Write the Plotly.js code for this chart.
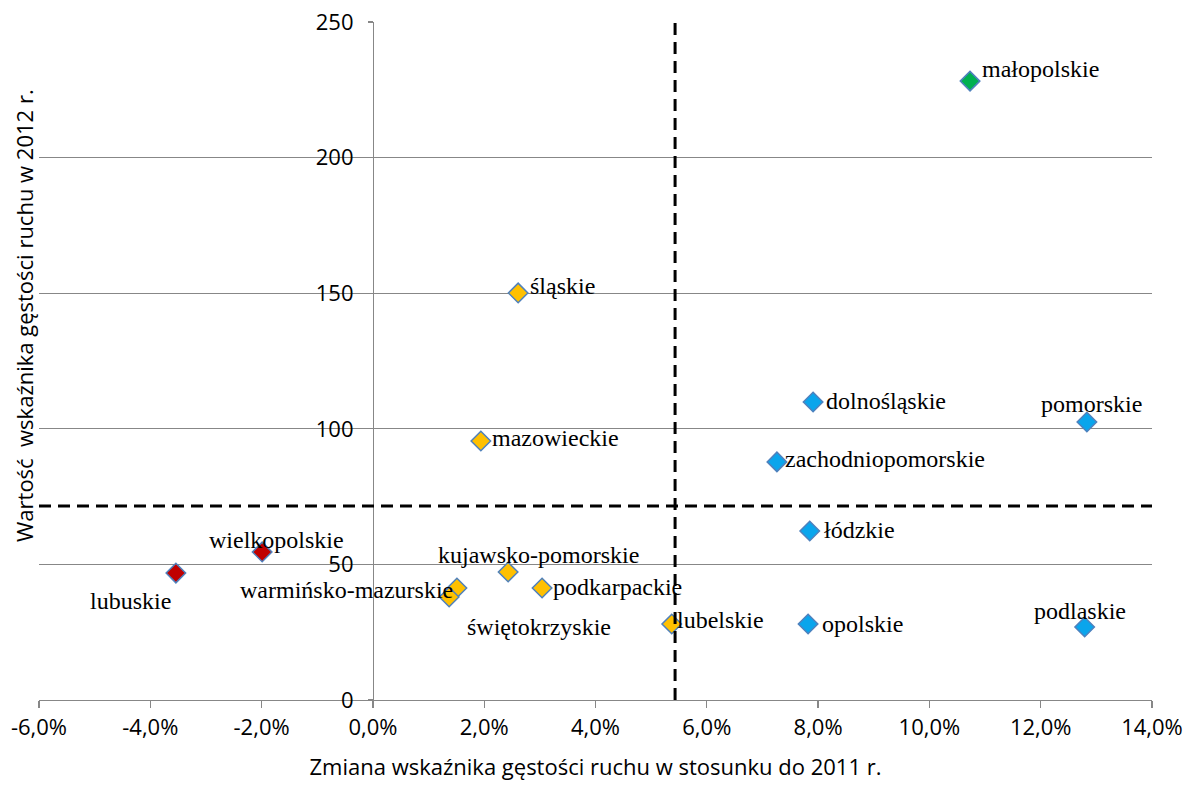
<!DOCTYPE html>
<html>
<head>
<meta charset="utf-8">
<script src="https://cdn.plot.ly/plotly-3.0.1.min.js"></script>
<style>html,body{margin:0;padding:0;background:#fff;}#chart{width:1190px;height:793px;}</style>
</head>
<body>
<div id="chart"></div>
<script>
// ---- data ----
const regions = ["małopolskie","śląskie","dolnośląskie","pomorskie","mazowieckie","zachodniopomorskie","łódzkie","wielkopolskie","lubuskie","kujawsko-pomorskie","warmińsko-mazurskie","podkarpackie","świętokrzyskie","lubelskie","opolskie","podlaskie"];
const changeVals = [0.1073,0.0261,0.0791,0.1283,0.0194,0.0726,0.0785,-0.0199,-0.0354,0.0243,0.0151,0.0304,0.0137,0.0537,0.0782,0.1279];
const value2012 = [228.2,150.1,109.9,102.5,95.5,87.8,62.3,54.6,46.8,47.2,41.3,41.3,38.0,28.0,28.0,26.9];
const groups = ["top","mid","high","high","mid","high","high","low","low","mid","mid","mid","mid","mid","high","high"];
const xTickVals = [-0.06,-0.04,-0.02,0,0.02,0.04,0.06,0.08,0.10,0.12,0.14];
const xTickText = ["-6,0%","-4,0%","-2,0%","0,0%","2,0%","4,0%","6,0%","8,0%","10,0%","12,0%","14,0%"];
const yTickVals = [0,50,100,150,200,250];
const thresholdX = 0.0543;
const thresholdY = 71.5;
const xTitle = "Zmiana wskaźnika gęstości ruchu w stosunku do 2011 r.";
const yTitle = "Wartość  wskaźnika gęstości ruchu w 2012 r.";

// ---- styles ----
const groupColor = {top:"#00B050", mid:"#FFC000", high:"#0AA5EC", low:"#C00000"};
const labelPlacement = {
  "małopolskie":[ "left",10,12],
  "śląskie":["left",10,7],
  "dolnośląskie":["left",11,1],
  "pomorskie":["center",5,18],
  "mazowieckie":["left",9,3],
  "zachodniopomorskie":["left",6,3],
  "łódzkie":["left",12,1],
  "wielkopolskie":["center",14,12],
  "lubuskie":["right",-3,-28],
  "kujawsko-pomorskie":["center",30,17],
  "warmińsko-mazurskie":["right",-2,-2],
  "podkarpackie":["left",9,1],
  "świętokrzyskie":["center",90,-30],
  "lubelskie":["left",3,4],
  "opolskie":["left",12,0],
  "podlaskie":["center",-5,16]
};
const gray = "#878787";
const tickFont = {family:"Open Sans, sans-serif", size:22, color:"#000"};
const titleFont = {family:"Open Sans, sans-serif", size:22, color:"#000"};

const trace = {
  type:"scatter", mode:"markers",
  x: changeVals, y: value2012,
  marker:{symbol:"diamond", size:15, color: groups.map(g=>groupColor[g]), line:{color:"#4F81BD", width:1.5}},
  hoverinfo:"skip", showlegend:false, cliponaxis:false
};

const annotations = regions.map((r,i)=>{
  const p = labelPlacement[r];
  return {x:changeVals[i], y:value2012[i], xref:"x", yref:"y", text:r, showarrow:false,
    xanchor:p[0], yanchor:"middle", xshift:p[1], yshift:p[2],
    font:{family:"Liberation Serif, Times New Roman, serif", size:24, color:"#000"}};
});
annotations.push({xref:"paper", yref:"paper", x:-0.014, y:0.567, text:yTitle, textangle:-90,
  showarrow:false, xanchor:"center", yanchor:"middle", font:titleFont});

const layout = {
  width:1190, height:793,
  margin:{l:39, r:38, t:22, b:93},
  paper_bgcolor:"#fff", plot_bgcolor:"#fff",
  showlegend:false,
  xaxis:{range:[-0.06,0.14], tickmode:"array", tickvals:xTickVals, ticktext:xTickText, showgrid:false, zeroline:false,
    showline:true, linecolor:gray, linewidth:1.3, ticks:"outside", ticklen:7, tickcolor:gray, tickwidth:1.3,
    tickfont:tickFont, title:{text:xTitle, font:titleFont, standoff:20}},
  yaxis:{range:[0,250], tickmode:"array", tickvals:yTickVals, showgrid:true, gridcolor:gray, gridwidth:1.3, zeroline:false,
    showline:true, linecolor:gray, linewidth:1.3, anchor:"free", position:0.3,
    ticks:"outside", ticklen:5, tickcolor:gray, tickwidth:1.3, tickfont:tickFont, ticklabelstandoff:10},
  shapes:[
    {type:"line", xref:"x", yref:"y", x0:thresholdX, x1:thresholdX, y0:0, y1:250, line:{color:"#000", width:3, dash:"12px,7px"}},
    {type:"line", xref:"x", yref:"y", x0:-0.06, x1:0.14, y0:thresholdY, y1:thresholdY, line:{color:"#000", width:3, dash:"12px,7px"}}
  ],
  annotations:annotations
};

Plotly.newPlot("chart", [trace], layout, {displayModeBar:false, staticPlot:true});
</script>
</body>
</html>
